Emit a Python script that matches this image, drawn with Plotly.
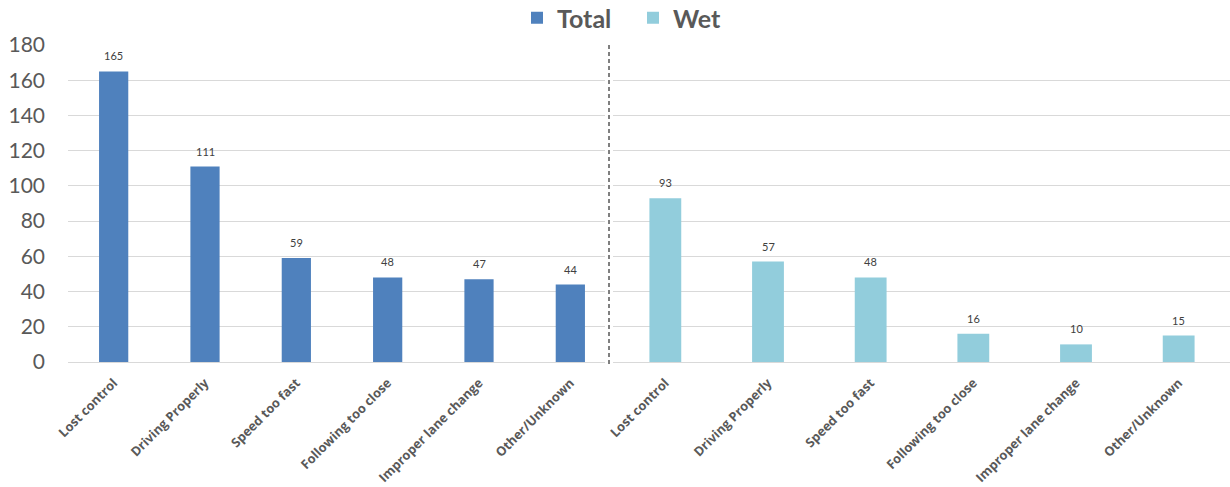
import plotly.graph_objects as go

categories = ["Lost control", "Driving Properly", "Speed too fast",
              "Following too close", "Improper lane change", "Other/Unknown"]
total_values = [165, 111, 59, 48, 47, 44]
wet_values = [93, 57, 48, 16, 10, 15]
y_ticks = [0, 20, 40, 60, 80, 100, 120, 140, 160, 180]

W, H = 1230, 487
ML, MR, MT, MB = 68, 0, 45, 125
PW = W - ML - MR
PH = H - MT - MB

def px(x):
    return (x - ML) / PW

FONT = "Lato, 'Open Sans', sans-serif"
XFONT = "'Open Sans', sans-serif"
GRID = "#D9D9D9"
TXT = "#595959"

fig = go.Figure()
fig.add_trace(go.Bar(
    x=categories, y=total_values, name="Total", xaxis="x", yaxis="y",
    marker=dict(color="#4F81BD", line=dict(width=0)), width=0.32,
))
fig.add_trace(go.Bar(
    x=categories, y=wet_values, name="Wet", xaxis="x2", yaxis="y",
    marker=dict(color="#92CDDC", line=dict(width=0)), width=0.31,
))

annotations = []
for xref, vals in (("x", total_values), ("x2", wet_values)):
    for c, v in zip(categories, vals):
        annotations.append(dict(
            x=c, y=v, xref=xref, yref="y", text=str(v), showarrow=False,
            yanchor="bottom", yshift=7,
            font=dict(family=FONT, size=11, color="#404040")))

xcommon = dict(type="category", tickangle=-45, showgrid=False, showline=False,
               zeroline=False, ticks="", ticklabelstandoff=10, automargin=False,
               tickfont=dict(family=XFONT, size=12.8, color=TXT, weight="bold"))
fig.update_layout(
    width=W, height=H,
    margin=dict(l=ML, r=MR, t=MT, b=MB, autoexpand=False),
    paper_bgcolor="white", plot_bgcolor="white",
    showlegend=True,
    legend=dict(orientation="h", x=517 / W, xanchor="left", xref="container",
                y=1 - 18 / H, yanchor="middle", yref="container",
                font=dict(family=FONT, size=25, color=TXT, weight="bold"),
                itemsizing="constant", entrywidth=71, entrywidthmode="pixels"),
    xaxis=dict(domain=[0, px(616)], anchor="y", **xcommon),
    xaxis2=dict(domain=[px(614), 1.0], anchor="y", **xcommon),
    yaxis=dict(range=[0, 180], tickvals=y_ticks, showgrid=True, gridcolor=GRID,
               gridwidth=1, zeroline=True, zerolinecolor=GRID, zerolinewidth=1,
               showline=False, ticklabelstandoff=22, automargin=False,
               tickfont=dict(family=FONT, size=21, color=TXT)),
    bargap=0.2,
    font=dict(family=FONT),
    annotations=annotations,
)

# gap in gridlines behind the divider
fig.add_shape(type="rect", xref="paper", yref="paper",
              x0=px(605), x1=px(613), y0=-0.01, y1=1.01,
              fillcolor="white", line=dict(width=0), layer="above")
fig.add_shape(type="line", xref="paper", yref="paper",
              x0=px(609), x1=px(609), y0=1.0, y1=-5 / PH,
              line=dict(color="black", width=1, dash="4px,3px"), layer="above")

fig.write_html("out.html", config={"displayModeBar": False},
               post_script="document.body.style.margin='0';")
